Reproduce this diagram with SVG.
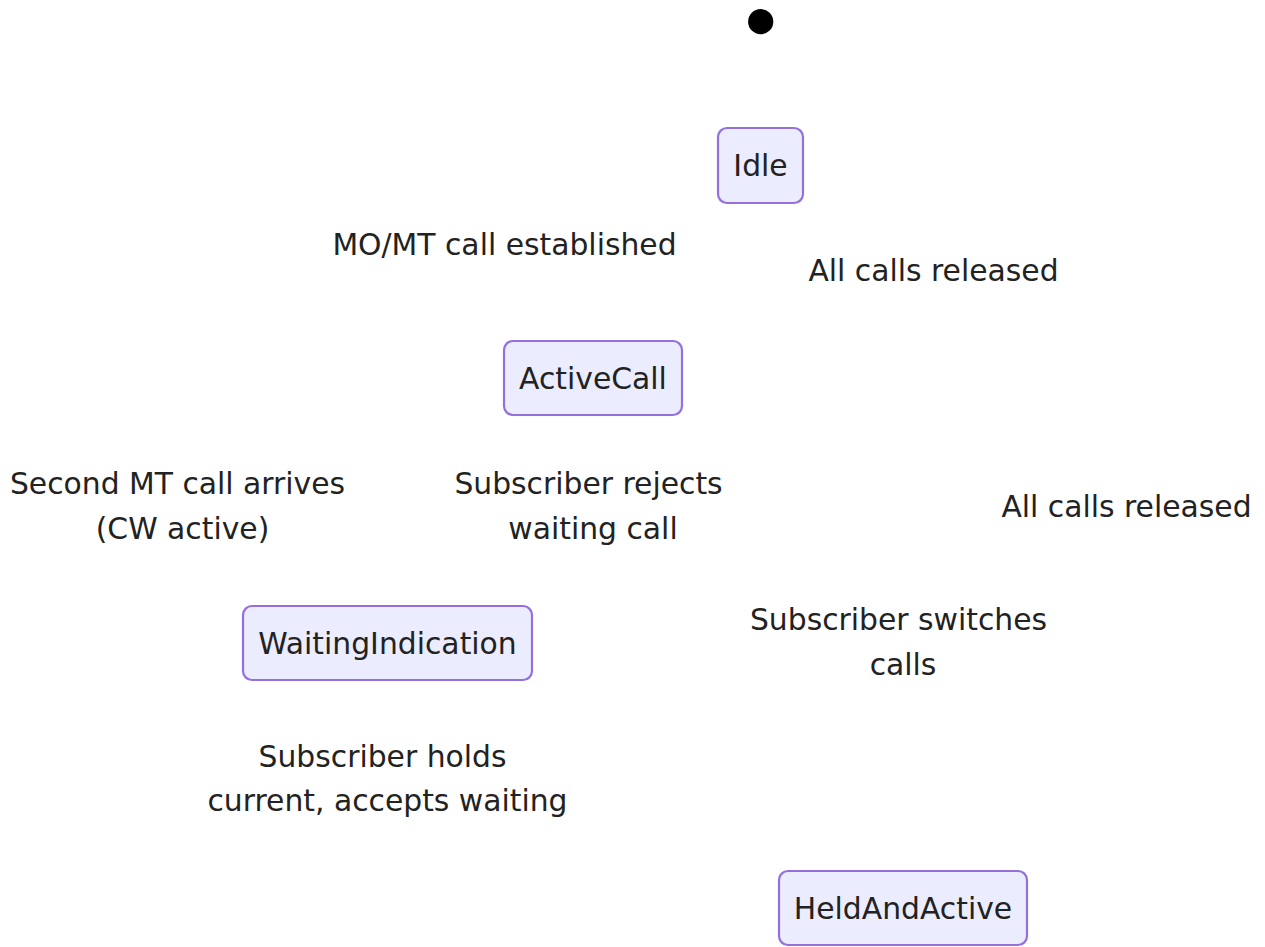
<svg xmlns="http://www.w3.org/2000/svg" width="1265" height="947" viewBox="0 0 1265 947">
<style>
.bg{fill:#ffffff}
.state rect{fill:#ECECFF;stroke:#9370DB;stroke-width:2.2}
text{font-family:"DejaVu Sans","Liberation Sans",sans-serif;font-size:29.8px;fill:#222222;text-anchor:middle}
</style>
<rect class="bg" x="0" y="0" width="1265" height="947"/>
<g id="connectors"></g>
<g id="start"><circle cx="760.7" cy="21.7" r="12.6" fill="#000000"/></g>
<g id="Idle" class="state"><rect x="718" y="128" width="85" height="75" rx="9" ry="9"/><text x="760.5" y="175.5">Idle</text></g>
<g id="ActiveCall" class="state"><rect x="504" y="341" width="178" height="74" rx="9" ry="9"/><text x="593" y="388.5">ActiveCall</text></g>
<g id="WaitingIndication" class="state"><rect x="243" y="606" width="289" height="74" rx="9" ry="9"/><text x="387.5" y="653.5">WaitingIndication</text></g>
<g id="HeldAndActive" class="state"><rect x="779" y="871" width="248" height="74" rx="9" ry="9"/><text x="903" y="918.5">HeldAndActive</text></g>
<g id="labels">
<text x="504.5" y="254.5">MO/MT call established</text>
<text x="933.5" y="280.5">All calls released</text>
<text x="177.5" y="493.5">Second MT call arrives</text>
<text x="182.5" y="538.5">(CW active)</text>
<text x="588.5" y="493.5">Subscriber rejects</text>
<text x="593" y="538.5">waiting call</text>
<text x="1126.5" y="516.5">All calls released</text>
<text x="898.5" y="629.5">Subscriber switches</text>
<text x="903" y="674.5">calls</text>
<text x="382.5" y="766.5">Subscriber holds</text>
<text x="387.5" y="810.5">current, accepts waiting</text>
</g>
</svg>
